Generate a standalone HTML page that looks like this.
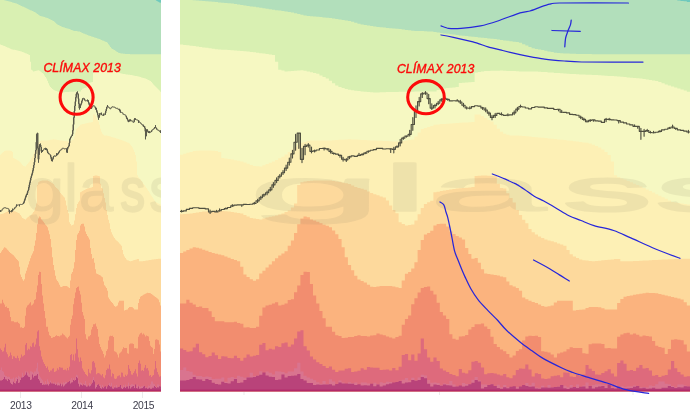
<!DOCTYPE html>
<html><head><meta charset="utf-8"><style>
html,body{margin:0;padding:0;background:#fff;}
body{width:690px;height:416px;position:relative;overflow:hidden;}
svg{position:absolute;display:block;}
.ax{position:absolute;top:400px;font:10.3px "Liberation Sans",Arial,sans-serif;letter-spacing:-0.35px;color:#3d3d4b;width:40px;text-align:center;}
</style></head><body>
<svg style="left:0;top:0" width="690" height="416" viewBox="0 0 690 416"><defs>
<g id="chart">
<polygon fill="#6fc9bd" points="180.0,-1.0 183.2,-1.0 183.2,-1.0 186.3,-1.0 186.3,-1.0 189.5,-1.0 189.5,-1.0 192.7,-1.0 192.7,-1.0 195.8,-1.0 195.8,-1.0 199.0,-1.0 199.0,-1.0 202.2,-1.0 202.2,-1.0 205.3,-1.0 205.3,-1.0 208.5,-1.0 208.5,-1.0 211.7,-1.0 211.7,-1.0 214.8,-1.0 214.8,-1.0 218.0,-1.0 218.0,-1.0 221.2,-1.0 221.2,-1.0 224.3,-1.0 224.3,-1.0 227.5,-1.0 227.5,-1.0 230.7,-1.0 230.7,-1.0 233.9,-1.0 233.9,-1.0 237.0,-1.0 237.0,-1.0 240.2,-1.0 240.2,-1.0 243.4,-1.0 243.4,-1.0 246.5,-1.0 246.5,-1.0 249.7,-1.0 249.7,-1.0 252.9,-1.0 252.9,-1.0 256.0,-1.0 256.0,-1.0 259.2,-1.0 259.2,-1.0 262.4,-1.0 262.4,-1.0 265.5,-1.0 265.5,-1.0 268.7,-1.0 268.7,-1.0 271.9,-1.0 271.9,-1.0 275.0,-1.0 275.0,-1.0 278.2,-1.0 278.2,-1.0 281.4,-1.0 281.4,-1.0 284.5,-1.0 284.5,-1.0 287.7,-1.0 287.7,-1.0 290.9,-1.0 290.9,-1.0 294.0,-1.0 294.0,-1.0 297.2,-1.0 297.2,-1.0 300.4,-1.0 300.4,-1.0 303.5,-1.0 303.5,-1.0 306.7,-1.0 306.7,-1.0 309.9,-1.0 309.9,-1.0 313.0,-1.0 313.0,-1.0 316.2,-1.0 316.2,-1.0 319.4,-1.0 319.4,-1.0 322.5,-1.0 322.5,-1.0 325.7,-1.0 325.7,-1.0 328.9,-1.0 328.9,-1.0 332.0,-1.0 332.0,-1.0 335.2,-1.0 335.2,-1.0 338.4,-1.0 338.4,-1.0 341.6,-1.0 341.6,-1.0 344.7,-1.0 344.7,-1.0 347.9,-1.0 347.9,-1.0 351.1,-1.0 351.1,-1.0 354.2,-1.0 354.2,-1.0 357.4,-1.0 357.4,-1.0 360.6,-1.0 360.6,-1.0 363.7,-1.0 363.7,-1.0 366.9,-1.0 366.9,-1.0 370.1,-1.0 370.1,-1.0 373.2,-1.0 373.2,-1.0 376.4,-1.0 376.4,-1.0 379.6,-1.0 379.6,-1.0 382.7,-1.0 382.7,-1.0 385.9,-1.0 385.9,-1.0 389.1,-1.0 389.1,-1.0 392.2,-1.0 392.2,-1.0 395.4,-1.0 395.4,-1.0 398.6,-1.0 398.6,-1.0 401.7,-1.0 401.7,-1.0 404.9,-1.0 404.9,-1.0 408.1,-1.0 408.1,-1.0 411.2,-1.0 411.2,-1.0 414.4,-1.0 414.4,-1.0 417.6,-1.0 417.6,-1.0 420.7,-1.0 420.7,-1.0 423.9,-1.0 423.9,-1.0 427.1,-1.0 427.1,-1.0 430.2,-1.0 430.2,-1.0 433.4,-1.0 433.4,-1.0 436.6,-1.0 436.6,-1.0 439.8,-1.0 439.8,-1.0 442.9,-1.0 442.9,-1.0 446.1,-1.0 446.1,-1.0 449.3,-1.0 449.3,-1.0 452.4,-1.0 452.4,-1.0 455.6,-1.0 455.6,-1.0 458.8,-1.0 458.8,-1.0 461.9,-1.0 461.9,-1.0 465.1,-1.0 465.1,-1.0 468.3,-1.0 468.3,-1.0 471.4,-1.0 471.4,-1.0 474.6,-1.0 474.6,-1.0 477.8,-1.0 477.8,-1.0 480.9,-1.0 480.9,-1.0 484.1,-1.0 484.1,-1.0 487.3,-1.0 487.3,-1.0 490.4,-1.0 490.4,-1.0 493.6,-1.0 493.6,-1.0 496.8,-1.0 496.8,-1.0 499.9,-1.0 499.9,-1.0 503.1,-1.0 503.1,-1.0 506.3,-1.0 506.3,-1.0 509.4,-1.0 509.4,-1.0 512.6,-1.0 512.6,-1.0 515.8,-1.0 515.8,-1.0 518.9,-1.0 518.9,-1.0 522.1,-1.0 522.1,-1.0 525.3,-1.0 525.3,-1.0 528.4,-1.0 528.4,-1.0 531.6,-1.0 531.6,-1.0 534.8,-1.0 534.8,-1.0 538.0,-1.0 538.0,-1.0 541.1,-1.0 541.1,-1.0 544.3,-1.0 544.3,-1.0 547.5,-1.0 547.5,-1.0 550.6,-1.0 550.6,-1.0 553.8,-1.0 553.8,-1.0 557.0,-1.0 557.0,-1.0 560.1,-1.0 560.1,-1.0 563.3,-1.0 563.3,-1.0 566.5,-1.0 566.5,-1.0 569.6,-1.0 569.6,-1.0 572.8,-1.0 572.8,-1.0 576.0,-1.0 576.0,-1.0 579.1,-1.0 579.1,-1.0 582.3,-1.0 582.3,-1.0 585.5,-1.0 585.5,-1.0 588.6,-1.0 588.6,-1.0 591.8,-1.0 591.8,-1.0 595.0,-1.0 595.0,-1.0 598.1,-1.0 598.1,-1.0 601.3,-1.0 601.3,-1.0 604.5,-1.0 604.5,-1.0 607.6,-1.0 607.6,-1.0 610.8,-1.0 610.8,-1.0 614.0,-1.0 614.0,-1.0 617.1,-1.0 617.1,-1.0 620.3,-1.0 620.3,-1.0 623.5,-1.0 623.5,-1.0 626.6,-1.0 626.6,-1.0 629.8,-1.0 629.8,-1.0 633.0,-1.0 633.0,-1.0 636.1,-1.0 636.1,-1.0 639.3,-1.0 639.3,-1.0 642.5,-1.0 642.5,-1.0 645.7,-1.0 645.7,-1.0 648.8,-1.0 648.8,-1.0 652.0,-1.0 652.0,-1.0 655.2,-1.0 655.2,-1.0 658.3,-1.0 658.3,-1.0 661.5,-1.0 661.5,-1.0 664.7,-1.0 664.7,-1.0 667.8,-1.0 667.8,-1.0 671.0,-1.0 671.0,-1.0 674.2,-1.0 674.2,-1.0 677.3,-1.0 677.3,-1.0 680.5,-1.0 680.5,-1.0 683.7,-1.0 683.7,-1.0 686.8,-1.0 686.8,-1.0 690.0,-1.0 690.0,391.5 180.0,391.5"/>
<polygon fill="#b2dfbb" points="180.0,-1.0 183.2,-1.0 183.2,-1.0 186.3,-1.0 186.3,-1.0 189.5,-1.0 189.5,-1.0 192.7,-1.0 192.7,-1.0 195.8,-1.0 195.8,-1.0 199.0,-1.0 199.0,-1.0 202.2,-1.0 202.2,-1.0 205.3,-1.0 205.3,-1.0 208.5,-1.0 208.5,-1.0 211.7,-1.0 211.7,-1.0 214.8,-1.0 214.8,-1.0 218.0,-1.0 218.0,-1.0 221.2,-1.0 221.2,-1.0 224.3,-1.0 224.3,-1.0 227.5,-1.0 227.5,-1.0 230.7,-1.0 230.7,-1.0 233.9,-1.0 233.9,-1.0 237.0,-1.0 237.0,-1.0 240.2,-1.0 240.2,-1.0 243.4,-1.0 243.4,-1.0 246.5,-1.0 246.5,-1.0 249.7,-1.0 249.7,-1.0 252.9,-1.0 252.9,-1.0 256.0,-1.0 256.0,-1.0 259.2,-1.0 259.2,-1.0 262.4,-1.0 262.4,-1.0 265.5,-1.0 265.5,-1.0 268.7,-1.0 268.7,-1.0 271.9,-1.0 271.9,-1.0 275.0,-1.0 275.0,-1.0 278.2,-1.0 278.2,-1.0 281.4,-1.0 281.4,-1.0 284.5,-1.0 284.5,-1.0 287.7,-1.0 287.7,-1.0 290.9,-1.0 290.9,-1.0 294.0,-1.0 294.0,-1.0 297.2,-1.0 297.2,-1.0 300.4,-1.0 300.4,-1.0 303.5,-1.0 303.5,-1.0 306.7,-1.0 306.7,-1.0 309.9,-1.0 309.9,-1.0 313.0,-1.0 313.0,-1.0 316.2,-1.0 316.2,-1.0 319.4,-1.0 319.4,-1.0 322.5,-1.0 322.5,-1.0 325.7,-1.0 325.7,-1.0 328.9,-1.0 328.9,-1.0 332.0,-1.0 332.0,-1.0 335.2,-1.0 335.2,-1.0 338.4,-1.0 338.4,-1.0 341.6,-1.0 341.6,-1.0 344.7,-1.0 344.7,-1.0 347.9,-1.0 347.9,-1.0 351.1,-1.0 351.1,-1.0 354.2,-1.0 354.2,-1.0 357.4,-1.0 357.4,-1.0 360.6,-1.0 360.6,-1.0 363.7,-1.0 363.7,-1.0 366.9,-1.0 366.9,-1.0 370.1,-1.0 370.1,-1.0 373.2,-1.0 373.2,-1.0 376.4,-1.0 376.4,-1.0 379.6,-1.0 379.6,-1.0 382.7,-1.0 382.7,-1.0 385.9,-1.0 385.9,-1.0 389.1,-1.0 389.1,-1.0 392.2,-1.0 392.2,-1.0 395.4,-1.0 395.4,-1.0 398.6,-1.0 398.6,-1.0 401.7,-1.0 401.7,-1.0 404.9,-1.0 404.9,-1.0 408.1,-1.0 408.1,-1.0 411.2,-1.0 411.2,-1.0 414.4,-1.0 414.4,-1.0 417.6,-1.0 417.6,-1.0 420.7,-1.0 420.7,-1.0 423.9,-1.0 423.9,-1.0 427.1,-1.0 427.1,-1.0 430.2,-1.0 430.2,-1.0 433.4,-1.0 433.4,-1.0 436.6,-1.0 436.6,-1.0 439.8,-1.0 439.8,-1.0 442.9,-1.0 442.9,-1.0 446.1,-1.0 446.1,-1.0 449.3,-1.0 449.3,-1.0 452.4,-1.0 452.4,-1.0 455.6,-1.0 455.6,-1.0 458.8,-1.0 458.8,-1.0 461.9,-1.0 461.9,-1.0 465.1,-1.0 465.1,-1.0 468.3,-1.0 468.3,-1.0 471.4,-1.0 471.4,-1.0 474.6,-1.0 474.6,-1.0 477.8,-1.0 477.8,-1.0 480.9,-1.0 480.9,-1.0 484.1,-1.0 484.1,-1.0 487.3,-1.0 487.3,-1.0 490.4,-1.0 490.4,-1.0 493.6,-1.0 493.6,-1.0 496.8,-1.0 496.8,-1.0 499.9,-1.0 499.9,-1.0 503.1,-1.0 503.1,-1.0 506.3,-1.0 506.3,-1.0 509.4,-1.0 509.4,-1.0 512.6,-1.0 512.6,-1.0 515.8,-1.0 515.8,-1.0 518.9,-1.0 518.9,-1.0 522.1,-1.0 522.1,-1.0 525.3,-1.0 525.3,-1.0 528.4,-1.0 528.4,-1.0 531.6,-1.0 531.6,-1.0 534.8,-1.0 534.8,-1.0 538.0,-1.0 538.0,-1.0 541.1,-1.0 541.1,-1.0 544.3,-1.0 544.3,-1.0 547.5,-1.0 547.5,-1.0 550.6,-1.0 550.6,-1.0 553.8,-1.0 553.8,-1.0 557.0,-1.0 557.0,-1.0 560.1,-1.0 560.1,-1.0 563.3,-1.0 563.3,-1.0 566.5,-1.0 566.5,-1.0 569.6,-1.0 569.6,-1.0 572.8,-1.0 572.8,-1.0 576.0,-1.0 576.0,-1.0 579.1,-1.0 579.1,-1.0 582.3,-1.0 582.3,-1.0 585.5,-1.0 585.5,-1.0 588.6,-1.0 588.6,-1.0 591.8,-1.0 591.8,-1.0 595.0,-1.0 595.0,-1.0 598.1,-1.0 598.1,-1.0 601.3,-1.0 601.3,-1.0 604.5,-1.0 604.5,-1.0 607.6,-1.0 607.6,-1.0 610.8,-1.0 610.8,-1.0 614.0,-1.0 614.0,-1.0 617.1,-1.0 617.1,-1.0 620.3,-1.0 620.3,-1.0 623.5,-1.0 623.5,-1.0 626.6,-1.0 626.6,-1.0 629.8,-1.0 629.8,-1.0 633.0,-1.0 633.0,-1.0 636.1,-1.0 636.1,-1.0 639.3,-1.0 639.3,-1.0 642.5,-1.0 642.5,-1.0 645.7,-1.0 645.7,-1.0 648.8,-1.0 648.8,-1.0 652.0,-1.0 652.0,-1.0 655.2,-1.0 655.2,-1.0 658.3,-1.0 658.3,-1.0 661.5,-1.0 661.5,-1.0 664.7,-1.0 664.7,-1.0 667.8,-1.0 667.8,-1.0 671.0,-1.0 671.0,-1.0 674.2,-1.0 674.2,-1.0 677.3,-1.0 677.3,0.4 680.5,0.4 680.5,1.1 683.7,1.1 683.7,1.3 686.8,1.3 686.8,1.9 690.0,1.9 690.0,391.5 180.0,391.5"/>
<polygon fill="#d9f0b2" points="180.0,-1.0 183.2,-1.0 183.2,-1.0 186.3,-1.0 186.3,-1.0 189.5,-1.0 189.5,-0.3 192.7,-0.3 192.7,0.2 195.8,0.2 195.8,0.4 199.0,0.4 199.0,0.7 202.2,0.7 202.2,1.0 205.3,1.0 205.3,1.2 208.5,1.2 208.5,1.5 211.7,1.5 211.7,1.8 214.8,1.8 214.8,2.1 218.0,2.1 218.0,2.4 221.2,2.4 221.2,2.7 224.3,2.7 224.3,3.0 227.5,3.0 227.5,3.3 230.7,3.3 230.7,3.6 233.9,3.6 233.9,4.0 237.0,4.0 237.0,4.4 240.2,4.4 240.2,4.9 243.4,4.9 243.4,5.4 246.5,5.4 246.5,5.9 249.7,5.9 249.7,6.4 252.9,6.4 252.9,6.8 256.0,6.8 256.0,7.3 259.2,7.3 259.2,7.8 262.4,7.8 262.4,8.3 265.5,8.3 265.5,8.8 268.7,8.8 268.7,9.2 271.9,9.2 271.9,9.7 275.0,9.7 275.0,10.2 278.2,10.2 278.2,10.6 281.4,10.6 281.4,11.1 284.5,11.1 284.5,11.6 287.7,11.6 287.7,12.0 290.9,12.0 290.9,12.6 294.0,12.6 294.0,13.3 297.2,13.3 297.2,14.0 300.4,14.0 300.4,14.7 303.5,14.7 303.5,15.4 306.7,15.4 306.7,16.0 309.9,16.0 309.9,16.3 313.0,16.3 313.0,16.6 316.2,16.6 316.2,16.8 319.4,16.8 319.4,17.1 322.5,17.1 322.5,17.4 325.7,17.4 325.7,17.7 328.9,17.7 328.9,18.1 332.0,18.1 332.0,18.6 335.2,18.6 335.2,19.0 338.4,19.0 338.4,19.5 341.6,19.5 341.6,20.0 344.7,20.0 344.7,20.5 347.9,20.5 347.9,20.9 351.1,20.9 351.1,21.8 354.2,21.8 354.2,22.7 357.4,22.7 357.4,23.7 360.6,23.7 360.6,24.6 363.7,24.6 363.7,25.1 366.9,25.1 366.9,25.6 370.1,25.6 370.1,26.1 373.2,26.1 373.2,26.6 376.4,26.6 376.4,26.9 379.6,26.9 379.6,27.2 382.7,27.2 382.7,27.6 385.9,27.6 385.9,27.9 389.1,27.9 389.1,28.2 392.2,28.2 392.2,28.5 395.4,28.5 395.4,28.8 398.6,28.8 398.6,29.1 401.7,29.1 401.7,29.5 404.9,29.5 404.9,29.9 408.1,29.9 408.1,30.3 411.2,30.3 411.2,30.7 414.4,30.7 414.4,30.9 417.6,30.9 417.6,31.0 420.7,31.0 420.7,31.1 423.9,31.1 423.9,31.3 427.1,31.3 427.1,31.4 430.2,31.4 430.2,31.6 433.4,31.6 433.4,32.1 436.6,32.1 436.6,32.6 439.8,32.6 439.8,33.0 442.9,33.0 442.9,33.4 446.1,33.4 446.1,33.8 449.3,33.8 449.3,34.2 452.4,34.2 452.4,34.6 455.6,34.6 455.6,35.0 458.8,35.0 458.8,35.4 461.9,35.4 461.9,35.8 465.1,35.8 465.1,36.1 468.3,36.1 468.3,36.4 471.4,36.4 471.4,36.7 474.6,36.7 474.6,37.0 477.8,37.0 477.8,37.4 480.9,37.4 480.9,37.7 484.1,37.7 484.1,38.0 487.3,38.0 487.3,38.4 490.4,38.4 490.4,38.7 493.6,38.7 493.6,39.1 496.8,39.1 496.8,39.5 499.9,39.5 499.9,39.9 503.1,39.9 503.1,40.4 506.3,40.4 506.3,40.8 509.4,40.8 509.4,41.2 512.6,41.2 512.6,41.7 515.8,41.7 515.8,42.1 518.9,42.1 518.9,42.7 522.1,42.7 522.1,44.2 525.3,44.2 525.3,45.6 528.4,45.6 528.4,47.1 531.6,47.1 531.6,48.2 534.8,48.2 534.8,48.9 538.0,48.9 538.0,49.5 541.1,49.5 541.1,50.1 544.3,50.1 544.3,50.8 547.5,50.8 547.5,51.4 550.6,51.4 550.6,52.0 553.8,52.0 553.8,52.7 557.0,52.7 557.0,53.1 560.1,53.1 560.1,53.3 563.3,53.3 563.3,53.5 566.5,53.5 566.5,53.6 569.6,53.6 569.6,53.7 572.8,53.7 572.8,53.8 576.0,53.8 576.0,53.9 579.1,53.9 579.1,53.9 582.3,53.9 582.3,54.0 585.5,54.0 585.5,54.1 588.6,54.1 588.6,54.1 591.8,54.1 591.8,54.2 595.0,54.2 595.0,54.2 598.1,54.2 598.1,54.2 601.3,54.2 601.3,54.2 604.5,54.2 604.5,54.2 607.6,54.2 607.6,54.2 610.8,54.2 610.8,54.2 614.0,54.2 614.0,54.2 617.1,54.2 617.1,54.2 620.3,54.2 620.3,54.2 623.5,54.2 623.5,54.2 626.6,54.2 626.6,54.2 629.8,54.2 629.8,54.2 633.0,54.2 633.0,54.2 636.1,54.2 636.1,54.2 639.3,54.2 639.3,54.2 642.5,54.2 642.5,54.2 645.7,54.2 645.7,54.2 648.8,54.2 648.8,54.2 652.0,54.2 652.0,54.2 655.2,54.2 655.2,54.2 658.3,54.2 658.3,54.2 661.5,54.2 661.5,54.2 664.7,54.2 664.7,54.2 667.8,54.2 667.8,54.2 671.0,54.2 671.0,54.2 674.2,54.2 674.2,54.2 677.3,54.2 677.3,54.2 680.5,54.2 680.5,54.2 683.7,54.2 683.7,54.2 686.8,54.2 686.8,54.2 690.0,54.2 690.0,391.5 180.0,391.5"/>
<polygon fill="#f6f8c2" points="180.0,44.5 183.2,44.5 183.2,44.9 186.3,44.9 186.3,45.3 189.5,45.3 189.5,45.7 192.7,45.7 192.7,46.1 195.8,46.1 195.8,46.5 199.0,46.5 199.0,46.9 202.2,46.9 202.2,47.4 205.3,47.4 205.3,47.8 208.5,47.8 208.5,48.3 211.7,48.3 211.7,48.8 214.8,48.8 214.8,49.2 218.0,49.2 218.0,49.5 221.2,49.5 221.2,49.7 224.3,49.7 224.3,49.8 227.5,49.8 227.5,50.0 230.7,50.0 230.7,50.2 233.9,50.2 233.9,50.4 237.0,50.4 237.0,50.7 240.2,50.7 240.2,51.0 243.4,51.0 243.4,51.3 246.5,51.3 246.5,51.6 249.7,51.6 249.7,51.9 252.9,51.9 252.9,52.3 256.0,52.3 256.0,52.7 259.2,52.7 259.2,53.2 262.4,53.2 262.4,53.6 265.5,53.6 265.5,54.1 268.7,54.1 268.7,54.6 271.9,54.6 271.9,55.0 275.0,55.0 275.0,61.8 278.2,61.8 278.2,69.7 281.4,69.7 281.4,70.6 284.5,70.6 284.5,71.4 287.7,71.4 287.7,71.2 290.9,71.2 290.9,70.9 294.0,70.9 294.0,70.7 297.2,70.7 297.2,70.5 300.4,70.5 300.4,70.3 303.5,70.3 303.5,70.7 306.7,70.7 306.7,71.5 309.9,71.5 309.9,72.3 313.0,72.3 313.0,73.1 316.2,73.1 316.2,73.8 319.4,73.8 319.4,75.4 322.5,75.4 322.5,77.0 325.7,77.0 325.7,78.5 328.9,78.5 328.9,80.8 332.0,80.8 332.0,83.2 335.2,83.2 335.2,85.6 338.4,85.6 338.4,86.9 341.6,86.9 341.6,87.9 344.7,87.9 344.7,88.9 347.9,88.9 347.9,89.8 351.1,89.8 351.1,90.3 354.2,90.3 354.2,90.7 357.4,90.7 357.4,91.1 360.6,91.1 360.6,91.5 363.7,91.5 363.7,91.8 366.9,91.8 366.9,92.0 370.1,92.0 370.1,92.3 373.2,92.3 373.2,92.5 376.4,92.5 376.4,92.4 379.6,92.4 379.6,92.3 382.7,92.3 382.7,92.2 385.9,92.2 385.9,92.1 389.1,92.1 389.1,92.0 392.2,92.0 392.2,91.9 395.4,91.9 395.4,91.9 398.6,91.9 398.6,91.8 401.7,91.8 401.7,91.7 404.9,91.7 404.9,91.7 408.1,91.7 408.1,91.7 411.2,91.7 411.2,91.7 414.4,91.7 414.4,91.6 417.6,91.6 417.6,91.6 420.7,91.6 420.7,91.6 423.9,91.6 423.9,91.6 427.1,91.6 427.1,91.5 430.2,91.5 430.2,91.5 433.4,91.5 433.4,91.5 436.6,91.5 436.6,89.9 439.8,89.9 439.8,88.8 442.9,88.8 442.9,88.5 446.1,88.5 446.1,88.1 449.3,88.1 449.3,87.8 452.4,87.8 452.4,87.4 455.6,87.4 455.6,87.1 458.8,87.1 458.8,82.9 461.9,82.9 461.9,82.7 465.1,82.7 465.1,82.5 468.3,82.5 468.3,82.3 471.4,82.3 471.4,82.1 474.6,82.1 474.6,72.4 477.8,72.4 477.8,71.9 480.9,71.9 480.9,71.5 484.1,71.5 484.1,71.0 487.3,71.0 487.3,70.9 490.4,70.9 490.4,70.8 493.6,70.8 493.6,70.8 496.8,70.8 496.8,70.7 499.9,70.7 499.9,70.6 503.1,70.6 503.1,70.7 506.3,70.7 506.3,70.9 509.4,70.9 509.4,71.0 512.6,71.0 512.6,71.1 515.8,71.1 515.8,71.3 518.9,71.3 518.9,71.4 522.1,71.4 522.1,71.4 525.3,71.4 525.3,71.5 528.4,71.5 528.4,71.5 531.6,71.5 531.6,71.6 534.8,71.6 534.8,71.6 538.0,71.6 538.0,71.7 541.1,71.7 541.1,71.9 544.3,71.9 544.3,72.1 547.5,72.1 547.5,72.4 550.6,72.4 550.6,72.6 553.8,72.6 553.8,72.9 557.0,72.9 557.0,73.1 560.1,73.1 560.1,73.3 563.3,73.3 563.3,73.6 566.5,73.6 566.5,73.8 569.6,73.8 569.6,74.0 572.8,74.0 572.8,74.1 576.0,74.1 576.0,74.3 579.1,74.3 579.1,74.4 582.3,74.4 582.3,74.6 585.5,74.6 585.5,74.7 588.6,74.7 588.6,74.8 591.8,74.8 591.8,75.0 595.0,75.0 595.0,75.1 598.1,75.1 598.1,75.3 601.3,75.3 601.3,75.5 604.5,75.5 604.5,75.7 607.6,75.7 607.6,75.9 610.8,75.9 610.8,76.1 614.0,76.1 614.0,76.2 617.1,76.2 617.1,76.4 620.3,76.4 620.3,76.7 623.5,76.7 623.5,77.0 626.6,77.0 626.6,77.4 629.8,77.4 629.8,77.7 633.0,77.7 633.0,78.0 636.1,78.0 636.1,78.3 639.3,78.3 639.3,78.6 642.5,78.6 642.5,79.0 645.7,79.0 645.7,79.5 648.8,79.5 648.8,80.0 652.0,80.0 652.0,80.6 655.2,80.6 655.2,81.1 658.3,81.1 658.3,82.0 661.5,82.0 661.5,83.2 664.7,83.2 664.7,84.4 667.8,84.4 667.8,85.5 671.0,85.5 671.0,86.4 674.2,86.4 674.2,87.4 677.3,87.4 677.3,88.4 680.5,88.4 680.5,89.5 683.7,89.5 683.7,90.6 686.8,90.6 686.8,91.8 690.0,91.8 690.0,391.5 180.0,391.5"/>
<polygon fill="#fdf0b5" points="180.0,154.8 183.2,154.8 183.2,153.7 186.3,153.7 186.3,152.7 189.5,152.7 189.5,151.9 192.7,151.9 192.7,151.1 195.8,151.1 195.8,150.8 199.0,150.8 199.0,150.6 202.2,150.6 202.2,150.4 205.3,150.4 205.3,150.4 208.5,150.4 208.5,150.6 211.7,150.6 211.7,150.7 214.8,150.7 214.8,150.9 218.0,150.9 218.0,152.1 221.2,152.1 221.2,158.0 224.3,158.0 224.3,158.5 227.5,158.5 227.5,159.0 230.7,159.0 230.7,159.6 233.9,159.6 233.9,160.2 237.0,160.2 237.0,160.8 240.2,160.8 240.2,161.5 243.4,161.5 243.4,162.6 246.5,162.6 246.5,163.8 249.7,163.8 249.7,164.9 252.9,164.9 252.9,165.9 256.0,165.9 256.0,166.2 259.2,166.2 259.2,166.4 262.4,166.4 262.4,165.2 265.5,165.2 265.5,164.0 268.7,164.0 268.7,162.7 271.9,162.7 271.9,161.5 275.0,161.5 275.0,159.9 278.2,159.9 278.2,158.3 281.4,158.3 281.4,156.7 284.5,156.7 284.5,154.4 287.7,154.4 287.7,152.0 290.9,152.0 290.9,149.6 294.0,149.6 294.0,147.1 297.2,147.1 297.2,144.5 300.4,144.5 300.4,142.7 303.5,142.7 303.5,141.9 306.7,141.9 306.7,141.1 309.9,141.1 309.9,140.5 313.0,140.5 313.0,140.5 316.2,140.5 316.2,140.5 319.4,140.5 319.4,140.5 322.5,140.5 322.5,140.5 325.7,140.5 325.7,140.5 328.9,140.5 328.9,140.4 332.0,140.4 332.0,140.2 335.2,140.2 335.2,140.0 338.4,140.0 338.4,139.8 341.6,139.8 341.6,139.7 344.7,139.7 344.7,139.5 347.9,139.5 347.9,139.3 351.1,139.3 351.1,139.4 354.2,139.4 354.2,139.6 357.4,139.6 357.4,139.7 360.6,139.7 360.6,139.9 363.7,139.9 363.7,140.0 366.9,140.0 366.9,140.2 370.1,140.2 370.1,140.4 373.2,140.4 373.2,140.5 376.4,140.5 376.4,140.7 379.6,140.7 379.6,140.8 382.7,140.8 382.7,141.0 385.9,141.0 385.9,141.1 389.1,141.1 389.1,141.3 392.2,141.3 392.2,141.4 395.4,141.4 395.4,141.6 398.6,141.6 398.6,141.5 401.7,141.5 401.7,141.0 404.9,141.0 404.9,140.5 408.1,140.5 408.1,140.0 411.2,140.0 411.2,139.5 414.4,139.5 414.4,136.6 417.6,136.6 417.6,132.4 420.7,132.4 420.7,129.1 423.9,129.1 423.9,128.0 427.1,128.0 427.1,127.0 430.2,127.0 430.2,125.9 433.4,125.9 433.4,124.8 436.6,124.8 436.6,124.4 439.8,124.4 439.8,124.1 442.9,124.1 442.9,123.9 446.1,123.9 446.1,123.7 449.3,123.7 449.3,123.5 452.4,123.5 452.4,123.3 455.6,123.3 455.6,123.0 458.8,123.0 458.8,122.8 461.9,122.8 461.9,122.6 465.1,122.6 465.1,122.4 468.3,122.4 468.3,122.2 471.4,122.2 471.4,122.0 474.6,122.0 474.6,114.6 477.8,114.6 477.8,114.6 480.9,114.6 480.9,115.9 484.1,115.9 484.1,118.1 487.3,118.1 487.3,120.0 490.4,120.0 490.4,121.5 493.6,121.5 493.6,124.8 496.8,124.8 496.8,128.7 499.9,128.7 499.9,131.8 503.1,131.8 503.1,133.7 506.3,133.7 506.3,134.8 509.4,134.8 509.4,135.6 512.6,135.6 512.6,135.6 515.8,135.6 515.8,135.6 518.9,135.6 518.9,135.7 522.1,135.7 522.1,136.0 525.3,136.0 525.3,136.3 528.4,136.3 528.4,136.6 531.6,136.6 531.6,136.9 534.8,136.9 534.8,137.2 538.0,137.2 538.0,137.5 541.1,137.5 541.1,137.8 544.3,137.8 544.3,138.1 547.5,138.1 547.5,138.5 550.6,138.5 550.6,138.8 553.8,138.8 553.8,139.1 557.0,139.1 557.0,139.4 560.1,139.4 560.1,139.8 563.3,139.8 563.3,140.1 566.5,140.1 566.5,140.4 569.6,140.4 569.6,140.8 572.8,140.8 572.8,141.2 576.0,141.2 576.0,141.6 579.1,141.6 579.1,142.0 582.3,142.0 582.3,142.4 585.5,142.4 585.5,142.8 588.6,142.8 588.6,143.5 591.8,143.5 591.8,144.8 595.0,144.8 595.0,146.1 598.1,146.1 598.1,147.4 601.3,147.4 601.3,149.4 604.5,149.4 604.5,151.9 607.6,151.9 607.6,155.0 610.8,155.0 610.8,161.4 614.0,161.4 614.0,175.3 617.1,175.3 617.1,177.2 620.3,177.2 620.3,178.4 623.5,178.4 623.5,179.6 626.6,179.6 626.6,181.0 629.8,181.0 629.8,182.3 633.0,182.3 633.0,183.7 636.1,183.7 636.1,185.1 639.3,185.1 639.3,186.5 642.5,186.5 642.5,187.9 645.7,187.9 645.7,189.5 648.8,189.5 648.8,191.1 652.0,191.1 652.0,192.6 655.2,192.6 655.2,194.2 658.3,194.2 658.3,195.7 661.5,195.7 661.5,197.3 664.7,197.3 664.7,198.8 667.8,198.8 667.8,200.4 671.0,200.4 671.0,201.9 674.2,201.9 674.2,202.5 677.3,202.5 677.3,202.9 680.5,202.9 680.5,203.4 683.7,203.4 683.7,203.9 686.8,203.9 686.8,204.4 690.0,204.4 690.0,391.5 180.0,391.5"/>
<polygon fill="#fdd99c" points="180.0,214.3 183.2,214.3 183.2,214.0 186.3,214.0 186.3,213.7 189.5,213.7 189.5,213.4 192.7,213.4 192.7,213.0 195.8,213.0 195.8,212.6 199.0,212.6 199.0,212.1 202.2,212.1 202.2,211.6 205.3,211.6 205.3,211.4 208.5,211.4 208.5,211.2 211.7,211.2 211.7,211.0 214.8,211.0 214.8,210.8 218.0,210.8 218.0,210.9 221.2,210.9 221.2,211.1 224.3,211.1 224.3,211.3 227.5,211.3 227.5,211.5 230.7,211.5 230.7,211.9 233.9,211.9 233.9,212.4 237.0,212.4 237.0,212.9 240.2,212.9 240.2,213.4 243.4,213.4 243.4,215.0 246.5,215.0 246.5,216.6 249.7,216.6 249.7,218.1 252.9,218.1 252.9,218.6 256.0,218.6 256.0,219.0 259.2,219.0 259.2,219.4 262.4,219.4 262.4,218.5 265.5,218.5 265.5,217.5 268.7,217.5 268.7,216.7 271.9,216.7 271.9,216.2 275.0,216.2 275.0,215.5 278.2,215.5 278.2,214.5 281.4,214.5 281.4,213.4 284.5,213.4 284.5,211.9 287.7,211.9 287.7,210.4 290.9,210.4 290.9,207.5 294.0,207.5 294.0,203.5 297.2,203.5 297.2,185.1 300.4,185.1 300.4,182.2 303.5,182.2 303.5,181.5 306.7,181.5 306.7,181.1 309.9,181.1 309.9,180.8 313.0,180.8 313.0,180.4 316.2,180.4 316.2,180.4 319.4,180.4 319.4,180.4 322.5,180.4 322.5,180.4 325.7,180.4 325.7,180.4 328.9,180.4 328.9,180.5 332.0,180.5 332.0,181.0 335.2,181.0 335.2,181.5 338.4,181.5 338.4,182.1 341.6,182.1 341.6,182.7 344.7,182.7 344.7,183.2 347.9,183.2 347.9,183.9 351.1,183.9 351.1,185.4 354.2,185.4 354.2,186.9 357.4,186.9 357.4,188.0 360.6,188.0 360.6,188.8 363.7,188.8 363.7,189.8 366.9,189.8 366.9,191.4 370.1,191.4 370.1,193.0 373.2,193.0 373.2,194.2 376.4,194.2 376.4,195.3 379.6,195.3 379.6,196.4 382.7,196.4 382.7,197.5 385.9,197.5 385.9,200.6 389.1,200.6 389.1,205.4 392.2,205.4 392.2,209.9 395.4,209.9 395.4,213.2 398.6,213.2 398.6,222.3 401.7,222.3 401.7,223.9 404.9,223.9 404.9,225.5 408.1,225.5 408.1,225.1 411.2,225.1 411.2,224.5 414.4,224.5 414.4,220.4 417.6,220.4 417.6,214.2 420.7,214.2 420.7,207.9 423.9,207.9 423.9,203.9 427.1,203.9 427.1,202.3 430.2,202.3 430.2,200.7 433.4,200.7 433.4,192.3 436.6,192.3 436.6,191.7 439.8,191.7 439.8,191.1 442.9,191.1 442.9,190.6 446.1,190.6 446.1,190.1 449.3,190.1 449.3,189.5 452.4,189.5 452.4,189.0 455.6,189.0 455.6,188.5 458.8,188.5 458.8,188.2 461.9,188.2 461.9,187.9 465.1,187.9 465.1,187.7 468.3,187.7 468.3,187.4 471.4,187.4 471.4,187.1 474.6,187.1 474.6,176.0 477.8,176.0 477.8,175.8 480.9,175.8 480.9,175.6 484.1,175.6 484.1,175.4 487.3,175.4 487.3,175.7 490.4,175.7 490.4,176.0 493.6,176.0 493.6,176.3 496.8,176.3 496.8,183.7 499.9,183.7 499.9,187.9 503.1,187.9 503.1,188.4 506.3,188.4 506.3,193.3 509.4,193.3 509.4,198.0 512.6,198.0 512.6,202.6 515.8,202.6 515.8,210.1 518.9,210.1 518.9,215.0 522.1,215.0 522.1,219.7 525.3,219.7 525.3,223.3 528.4,223.3 528.4,229.0 531.6,229.0 531.6,232.3 534.8,232.3 534.8,234.4 538.0,234.4 538.0,236.6 541.1,236.6 541.1,238.1 544.3,238.1 544.3,239.4 547.5,239.4 547.5,240.4 550.6,240.4 550.6,241.3 553.8,241.3 553.8,242.3 557.0,242.3 557.0,243.4 560.1,243.4 560.1,244.6 563.3,244.6 563.3,245.8 566.5,245.8 566.5,250.0 569.6,250.0 569.6,254.3 572.8,254.3 572.8,256.6 576.0,256.6 576.0,258.1 579.1,258.1 579.1,259.6 582.3,259.6 582.3,260.2 585.5,260.2 585.5,260.6 588.6,260.6 588.6,260.9 591.8,260.9 591.8,261.2 595.0,261.2 595.0,261.0 598.1,261.0 598.1,260.7 601.3,260.7 601.3,260.3 604.5,260.3 604.5,260.0 607.6,260.0 607.6,259.7 610.8,259.7 610.8,259.4 614.0,259.4 614.0,259.1 617.1,259.1 617.1,259.0 620.3,259.0 620.3,261.3 623.5,261.3 623.5,261.3 626.6,261.3 626.6,261.3 629.8,261.3 629.8,261.3 633.0,261.3 633.0,261.1 636.1,261.1 636.1,260.9 639.3,260.9 639.3,260.8 642.5,260.8 642.5,260.6 645.7,260.6 645.7,260.4 648.8,260.4 648.8,260.3 652.0,260.3 652.0,260.1 655.2,260.1 655.2,259.9 658.3,259.9 658.3,259.8 661.5,259.8 661.5,259.6 664.7,259.6 664.7,259.5 667.8,259.5 667.8,259.3 671.0,259.3 671.0,259.2 674.2,259.2 674.2,259.0 677.3,259.0 677.3,258.9 680.5,258.9 680.5,258.8 683.7,258.8 683.7,258.8 686.8,258.8 686.8,258.8 690.0,258.8 690.0,391.5 180.0,391.5"/>
<polygon fill="#fbb37e" points="180.0,253.1 183.2,253.1 183.2,251.5 186.3,251.5 186.3,250.0 189.5,250.0 189.5,248.6 192.7,248.6 192.7,247.2 195.8,247.2 195.8,247.7 199.0,247.7 199.0,248.6 202.2,248.6 202.2,249.7 205.3,249.7 205.3,250.8 208.5,250.8 208.5,252.0 211.7,252.0 211.7,253.0 214.8,253.0 214.8,253.7 218.0,253.7 218.0,254.5 221.2,254.5 221.2,255.3 224.3,255.3 224.3,256.6 227.5,256.6 227.5,257.8 230.7,257.8 230.7,259.0 233.9,259.0 233.9,260.1 237.0,260.1 237.0,261.2 240.2,261.2 240.2,266.7 243.4,266.7 243.4,274.5 246.5,274.5 246.5,277.1 249.7,277.1 249.7,279.2 252.9,279.2 252.9,280.8 256.0,280.8 256.0,279.2 259.2,279.2 259.2,273.4 262.4,273.4 262.4,270.8 265.5,270.8 265.5,267.6 268.7,267.6 268.7,264.4 271.9,264.4 271.9,261.3 275.0,261.3 275.0,258.2 278.2,258.2 278.2,255.5 281.4,255.5 281.4,253.4 284.5,253.4 284.5,251.2 287.7,251.2 287.7,245.8 290.9,245.8 290.9,240.4 294.0,240.4 294.0,232.9 297.2,232.9 297.2,224.2 300.4,224.2 300.4,218.6 303.5,218.6 303.5,216.6 306.7,216.6 306.7,217.3 309.9,217.3 309.9,219.4 313.0,219.4 313.0,220.6 316.2,220.6 316.2,221.7 319.4,221.7 319.4,223.3 322.5,223.3 322.5,224.7 325.7,224.7 325.7,225.8 328.9,225.8 328.9,227.3 332.0,227.3 332.0,230.4 335.2,230.4 335.2,234.3 338.4,234.3 338.4,239.0 341.6,239.0 341.6,247.3 344.7,247.3 344.7,257.3 347.9,257.3 347.9,265.0 351.1,265.0 351.1,270.3 354.2,270.3 354.2,275.8 357.4,275.8 357.4,279.4 360.6,279.4 360.6,281.0 363.7,281.0 363.7,282.6 366.9,282.6 366.9,284.7 370.1,284.7 370.1,286.8 373.2,286.8 373.2,286.9 376.4,286.9 376.4,286.5 379.6,286.5 379.6,286.1 382.7,286.1 382.7,286.0 385.9,286.0 385.9,286.0 389.1,286.0 389.1,286.0 392.2,286.0 392.2,286.5 395.4,286.5 395.4,287.3 398.6,287.3 398.6,288.1 401.7,288.1 401.7,280.4 404.9,280.4 404.9,273.8 408.1,273.8 408.1,272.0 411.2,272.0 411.2,268.6 414.4,268.6 414.4,262.3 417.6,262.3 417.6,250.0 420.7,250.0 420.7,240.0 423.9,240.0 423.9,234.6 427.1,234.6 427.1,233.0 430.2,233.0 430.2,230.8 433.4,230.8 433.4,225.6 436.6,225.6 436.6,224.1 439.8,224.1 439.8,223.8 442.9,223.8 442.9,223.8 446.1,223.8 446.1,226.4 449.3,226.4 449.3,231.4 452.4,231.4 452.4,233.9 455.6,233.9 455.6,236.0 458.8,236.0 458.8,237.5 461.9,237.5 461.9,239.6 465.1,239.6 465.1,247.9 468.3,247.9 468.3,254.1 471.4,254.1 471.4,258.8 474.6,258.8 474.6,257.9 477.8,257.9 477.8,262.8 480.9,262.8 480.9,269.2 484.1,269.2 484.1,273.6 487.3,273.6 487.3,274.1 490.4,274.1 490.4,274.6 493.6,274.6 493.6,275.1 496.8,275.1 496.8,275.6 499.9,275.6 499.9,276.5 503.1,276.5 503.1,277.3 506.3,277.3 506.3,281.6 509.4,281.6 509.4,285.2 512.6,285.2 512.6,286.6 515.8,286.6 515.8,287.9 518.9,287.9 518.9,290.7 522.1,290.7 522.1,297.6 525.3,297.6 525.3,299.2 528.4,299.2 528.4,300.8 531.6,300.8 531.6,301.9 534.8,301.9 534.8,303.0 538.0,303.0 538.0,304.5 541.1,304.5 541.1,306.1 544.3,306.1 544.3,306.8 547.5,306.8 547.5,306.2 550.6,306.2 550.6,305.5 553.8,305.5 553.8,302.4 557.0,302.4 557.0,300.8 560.1,300.8 560.1,300.8 563.3,300.8 563.3,300.8 566.5,300.8 566.5,300.8 569.6,300.8 569.6,300.8 572.8,300.8 572.8,310.4 576.0,310.4 576.0,310.1 579.1,310.1 579.1,309.8 582.3,309.8 582.3,309.4 585.5,309.4 585.5,307.9 588.6,307.9 588.6,307.0 591.8,307.0 591.8,307.0 595.0,307.0 595.0,307.0 598.1,307.0 598.1,307.3 601.3,307.3 601.3,308.3 604.5,308.3 604.5,309.4 607.6,309.4 607.6,309.4 610.8,309.4 610.8,309.4 614.0,309.4 614.0,309.4 617.1,309.4 617.1,303.0 620.3,303.0 620.3,298.9 623.5,298.9 623.5,296.7 626.6,296.7 626.6,296.1 629.8,296.1 629.8,295.5 633.0,295.5 633.0,294.8 636.1,294.8 636.1,294.3 639.3,294.3 639.3,293.8 642.5,293.8 642.5,293.3 645.7,293.3 645.7,292.8 648.8,292.8 648.8,292.9 652.0,292.9 652.0,293.1 655.2,293.1 655.2,293.3 658.3,293.3 658.3,293.9 661.5,293.9 661.5,294.7 664.7,294.7 664.7,295.5 667.8,295.5 667.8,296.3 671.0,296.3 671.0,297.0 674.2,297.0 674.2,297.8 677.3,297.8 677.3,298.6 680.5,298.6 680.5,299.5 683.7,299.5 683.7,302.2 686.8,302.2 686.8,305.4 690.0,305.4 690.0,391.5 180.0,391.5"/>
<polygon fill="#f28d6f" points="180.0,303.6 183.2,303.6 183.2,303.5 186.3,303.5 186.3,299.7 189.5,299.7 189.5,302.7 192.7,302.7 192.7,304.5 195.8,304.5 195.8,306.9 199.0,306.9 199.0,306.5 202.2,306.5 202.2,307.9 205.3,307.9 205.3,307.9 208.5,307.9 208.5,311.2 211.7,311.2 211.7,316.9 214.8,316.9 214.8,321.3 218.0,321.3 218.0,321.2 221.2,321.2 221.2,321.2 224.3,321.2 224.3,322.3 227.5,322.3 227.5,322.3 230.7,322.3 230.7,322.2 233.9,322.2 233.9,321.8 237.0,321.8 237.0,323.1 240.2,323.1 240.2,323.8 243.4,323.8 243.4,327.4 246.5,327.4 246.5,327.3 249.7,327.3 249.7,328.0 252.9,328.0 252.9,327.9 256.0,327.9 256.0,326.8 259.2,326.8 259.2,315.7 262.4,315.7 262.4,307.5 265.5,307.5 265.5,305.6 268.7,305.6 268.7,304.8 271.9,304.8 271.9,303.6 275.0,303.6 275.0,302.3 278.2,302.3 278.2,305.6 281.4,305.6 281.4,304.7 284.5,304.7 284.5,303.6 287.7,303.6 287.7,299.9 290.9,299.9 290.9,299.2 294.0,299.2 294.0,292.3 297.2,292.3 297.2,285.5 300.4,285.5 300.4,275.0 303.5,275.0 303.5,271.7 306.7,271.7 306.7,272.0 309.9,272.0 309.9,283.9 313.0,283.9 313.0,295.4 316.2,295.4 316.2,303.4 319.4,303.4 319.4,311.0 322.5,311.0 322.5,318.2 325.7,318.2 325.7,326.8 328.9,326.8 328.9,326.8 332.0,326.8 332.0,331.7 335.2,331.7 335.2,335.2 338.4,335.2 338.4,336.1 341.6,336.1 341.6,338.1 344.7,338.1 344.7,337.7 347.9,337.7 347.9,337.1 351.1,337.1 351.1,337.1 354.2,337.1 354.2,336.0 357.4,336.0 357.4,335.3 360.6,335.3 360.6,336.0 363.7,336.0 363.7,336.0 366.9,336.0 366.9,336.4 370.1,336.4 370.1,335.4 373.2,335.4 373.2,335.2 376.4,335.2 376.4,333.6 379.6,333.6 379.6,334.6 382.7,334.6 382.7,335.3 385.9,335.3 385.9,336.6 389.1,336.6 389.1,337.6 392.2,337.6 392.2,338.5 395.4,338.5 395.4,337.1 398.6,337.1 398.6,335.8 401.7,335.8 401.7,324.7 404.9,324.7 404.9,318.9 408.1,318.9 408.1,315.4 411.2,315.4 411.2,304.2 414.4,304.2 414.4,298.2 417.6,298.2 417.6,292.5 420.7,292.5 420.7,288.1 423.9,288.1 423.9,286.9 427.1,286.9 427.1,286.6 430.2,286.6 430.2,290.8 433.4,290.8 433.4,294.6 436.6,294.6 436.6,302.8 439.8,302.8 439.8,311.9 442.9,311.9 442.9,315.5 446.1,315.5 446.1,319.1 449.3,319.1 449.3,334.2 452.4,334.2 452.4,338.7 455.6,338.7 455.6,339.7 458.8,339.7 458.8,336.5 461.9,336.5 461.9,336.3 465.1,336.3 465.1,334.9 468.3,334.9 468.3,329.6 471.4,329.6 471.4,327.1 474.6,327.1 474.6,324.3 477.8,324.3 477.8,324.2 480.9,324.2 480.9,323.6 484.1,323.6 484.1,326.4 487.3,326.4 487.3,329.0 490.4,329.0 490.4,336.8 493.6,336.8 493.6,343.9 496.8,343.9 496.8,347.0 499.9,347.0 499.9,349.6 503.1,349.6 503.1,351.3 506.3,351.3 506.3,354.1 509.4,354.1 509.4,357.5 512.6,357.5 512.6,355.5 515.8,355.5 515.8,351.0 518.9,351.0 518.9,349.2 522.1,349.2 522.1,340.6 525.3,340.6 525.3,336.6 528.4,336.6 528.4,335.8 531.6,335.8 531.6,336.0 534.8,336.0 534.8,335.7 538.0,335.7 538.0,337.0 541.1,337.0 541.1,351.2 544.3,351.2 544.3,351.8 547.5,351.8 547.5,352.4 550.6,352.4 550.6,354.4 553.8,354.4 553.8,357.6 557.0,357.6 557.0,353.5 560.1,353.5 560.1,352.5 563.3,352.5 563.3,351.6 566.5,351.6 566.5,349.2 569.6,349.2 569.6,347.3 572.8,347.3 572.8,347.9 576.0,347.9 576.0,347.9 579.1,347.9 579.1,348.0 582.3,348.0 582.3,353.2 585.5,353.2 585.5,353.8 588.6,353.8 588.6,344.3 591.8,344.3 591.8,343.6 595.0,343.6 595.0,343.5 598.1,343.5 598.1,343.4 601.3,343.4 601.3,344.1 604.5,344.1 604.5,348.2 607.6,348.2 607.6,348.1 610.8,348.1 610.8,348.5 614.0,348.5 614.0,348.6 617.1,348.6 617.1,336.7 620.3,336.7 620.3,334.5 623.5,334.5 623.5,333.3 626.6,333.3 626.6,332.8 629.8,332.8 629.8,334.5 633.0,334.5 633.0,333.6 636.1,333.6 636.1,334.7 639.3,334.7 639.3,336.6 642.5,336.6 642.5,335.4 645.7,335.4 645.7,335.9 648.8,335.9 648.8,336.4 652.0,336.4 652.0,340.9 655.2,340.9 655.2,345.7 658.3,345.7 658.3,347.1 661.5,347.1 661.5,347.8 664.7,347.8 664.7,353.9 667.8,353.9 667.8,349.1 671.0,349.1 671.0,339.8 674.2,339.8 674.2,339.2 677.3,339.2 677.3,339.7 680.5,339.7 680.5,340.3 683.7,340.3 683.7,344.6 686.8,344.6 686.8,351.5 690.0,351.5 690.0,391.5 180.0,391.5"/>
<polygon fill="#de6a7c" points="180.0,348.5 183.2,348.5 183.2,350.1 186.3,350.1 186.3,351.7 189.5,351.7 189.5,351.2 192.7,351.2 192.7,347.5 195.8,347.5 195.8,343.7 199.0,343.7 199.0,352.2 202.2,352.2 202.2,354.2 205.3,354.2 205.3,357.3 208.5,357.3 208.5,356.1 211.7,356.1 211.7,352.6 214.8,352.6 214.8,355.2 218.0,355.2 218.0,359.1 221.2,359.1 221.2,356.3 224.3,356.3 224.3,356.6 227.5,356.6 227.5,357.9 230.7,357.9 230.7,358.3 233.9,358.3 233.9,355.8 237.0,355.8 237.0,358.1 240.2,358.1 240.2,360.7 243.4,360.7 243.4,357.8 246.5,357.8 246.5,354.6 249.7,354.6 249.7,356.5 252.9,356.5 252.9,355.7 256.0,355.7 256.0,355.1 259.2,355.1 259.2,344.8 262.4,344.8 262.4,343.1 265.5,343.1 265.5,350.2 268.7,350.2 268.7,348.8 271.9,348.8 271.9,349.5 275.0,349.5 275.0,346.3 278.2,346.3 278.2,346.9 281.4,346.9 281.4,343.2 284.5,343.2 284.5,342.5 287.7,342.5 287.7,346.7 290.9,346.7 290.9,344.5 294.0,344.5 294.0,338.5 297.2,338.5 297.2,331.5 300.4,331.5 300.4,330.3 303.5,330.3 303.5,346.2 306.7,346.2 306.7,350.6 309.9,350.6 309.9,356.6 313.0,356.6 313.0,359.6 316.2,359.6 316.2,362.3 319.4,362.3 319.4,364.0 322.5,364.0 322.5,365.9 325.7,365.9 325.7,368.1 328.9,368.1 328.9,366.5 332.0,366.5 332.0,369.8 335.2,369.8 335.2,371.9 338.4,371.9 338.4,370.6 341.6,370.6 341.6,370.6 344.7,370.6 344.7,368.7 347.9,368.7 347.9,368.3 351.1,368.3 351.1,372.0 354.2,372.0 354.2,371.6 357.4,371.6 357.4,370.7 360.6,370.7 360.6,368.2 363.7,368.2 363.7,369.8 366.9,369.8 366.9,366.9 370.1,366.9 370.1,367.6 373.2,367.6 373.2,367.7 376.4,367.7 376.4,367.7 379.6,367.7 379.6,369.9 382.7,369.9 382.7,369.7 385.9,369.7 385.9,369.5 389.1,369.5 389.1,370.4 392.2,370.4 392.2,367.9 395.4,367.9 395.4,370.3 398.6,370.3 398.6,366.8 401.7,366.8 401.7,355.1 404.9,355.1 404.9,354.0 408.1,354.0 408.1,360.3 411.2,360.3 411.2,354.6 414.4,354.6 414.4,360.8 417.6,360.8 417.6,353.6 420.7,353.6 420.7,338.4 423.9,338.4 423.9,349.3 427.1,349.3 427.1,357.6 430.2,357.6 430.2,361.7 433.4,361.7 433.4,357.6 436.6,357.6 436.6,361.1 439.8,361.1 439.8,368.5 442.9,368.5 442.9,370.4 446.1,370.4 446.1,372.0 449.3,372.0 449.3,374.0 452.4,374.0 452.4,374.9 455.6,374.9 455.6,376.3 458.8,376.3 458.8,368.9 461.9,368.9 461.9,372.7 465.1,372.7 465.1,373.5 468.3,373.5 468.3,370.3 471.4,370.3 471.4,361.8 474.6,361.8 474.6,360.9 477.8,360.9 477.8,362.7 480.9,362.7 480.9,367.6 484.1,367.6 484.1,374.2 487.3,374.2 487.3,373.3 490.4,373.3 490.4,372.9 493.6,372.9 493.6,373.5 496.8,373.5 496.8,374.6 499.9,374.6 499.9,375.5 503.1,375.5 503.1,374.1 506.3,374.1 506.3,377.3 509.4,377.3 509.4,378.2 512.6,378.2 512.6,375.2 515.8,375.2 515.8,370.1 518.9,370.1 518.9,368.4 522.1,368.4 522.1,368.7 525.3,368.7 525.3,364.6 528.4,364.6 528.4,369.4 531.6,369.4 531.6,376.6 534.8,376.6 534.8,373.2 538.0,373.2 538.0,373.9 541.1,373.9 541.1,378.6 544.3,378.6 544.3,378.9 547.5,378.9 547.5,378.4 550.6,378.4 550.6,376.2 553.8,376.2 553.8,375.7 557.0,375.7 557.0,375.2 560.1,375.2 560.1,377.2 563.3,377.2 563.3,372.4 566.5,372.4 566.5,372.7 569.6,372.7 569.6,376.6 572.8,376.6 572.8,376.9 576.0,376.9 576.0,374.7 579.1,374.7 579.1,376.0 582.3,376.0 582.3,374.4 585.5,374.4 585.5,365.1 588.6,365.1 588.6,368.7 591.8,368.7 591.8,371.0 595.0,371.0 595.0,374.5 598.1,374.5 598.1,374.7 601.3,374.7 601.3,373.0 604.5,373.0 604.5,371.3 607.6,371.3 607.6,369.2 610.8,369.2 610.8,373.5 614.0,373.5 614.0,376.5 617.1,376.5 617.1,362.9 620.3,362.9 620.3,360.6 623.5,360.6 623.5,363.8 626.6,363.8 626.6,370.8 629.8,370.8 629.8,369.9 633.0,369.9 633.0,371.0 636.1,371.0 636.1,367.7 639.3,367.7 639.3,365.0 642.5,365.0 642.5,368.6 645.7,368.6 645.7,368.0 648.8,368.0 648.8,370.4 652.0,370.4 652.0,375.7 655.2,375.7 655.2,375.0 658.3,375.0 658.3,377.1 661.5,377.1 661.5,375.8 664.7,375.8 664.7,375.0 667.8,375.0 667.8,369.5 671.0,369.5 671.0,360.9 674.2,360.9 674.2,368.2 677.3,368.2 677.3,371.9 680.5,371.9 680.5,374.4 683.7,374.4 683.7,376.8 686.8,376.8 686.8,376.2 690.0,376.2 690.0,391.5 180.0,391.5"/>
<polygon fill="#d9748f" points="180.0,369.9 183.2,369.9 183.2,367.4 186.3,367.4 186.3,371.1 189.5,371.1 189.5,371.8 192.7,371.8 192.7,374.8 195.8,374.8 195.8,376.1 199.0,376.1 199.0,375.9 202.2,375.9 202.2,377.0 205.3,377.0 205.3,376.6 208.5,376.6 208.5,377.0 211.7,377.0 211.7,378.9 214.8,378.9 214.8,378.7 218.0,378.7 218.0,378.8 221.2,378.8 221.2,377.6 224.3,377.6 224.3,381.8 227.5,381.8 227.5,377.7 230.7,377.7 230.7,376.9 233.9,376.9 233.9,378.3 237.0,378.3 237.0,375.7 240.2,375.7 240.2,376.7 243.4,376.7 243.4,377.8 246.5,377.8 246.5,377.1 249.7,377.1 249.7,372.7 252.9,372.7 252.9,376.3 256.0,376.3 256.0,375.4 259.2,375.4 259.2,371.2 262.4,371.2 262.4,373.2 265.5,373.2 265.5,371.4 268.7,371.4 268.7,372.7 271.9,372.7 271.9,374.6 275.0,374.6 275.0,371.3 278.2,371.3 278.2,371.6 281.4,371.6 281.4,371.9 284.5,371.9 284.5,373.2 287.7,373.2 287.7,371.6 290.9,371.6 290.9,371.4 294.0,371.4 294.0,368.3 297.2,368.3 297.2,362.7 300.4,362.7 300.4,371.5 303.5,371.5 303.5,375.8 306.7,375.8 306.7,377.5 309.9,377.5 309.9,378.8 313.0,378.8 313.0,380.3 316.2,380.3 316.2,382.3 319.4,382.3 319.4,383.8 322.5,383.8 322.5,381.1 325.7,381.1 325.7,383.9 328.9,383.9 328.9,379.3 332.0,379.3 332.0,381.4 335.2,381.4 335.2,384.8 338.4,384.8 338.4,380.4 341.6,380.4 341.6,382.5 344.7,382.5 344.7,384.4 347.9,384.4 347.9,382.2 351.1,382.2 351.1,383.2 354.2,383.2 354.2,382.4 357.4,382.4 357.4,384.7 360.6,384.7 360.6,382.6 363.7,382.6 363.7,382.6 366.9,382.6 366.9,383.5 370.1,383.5 370.1,384.2 373.2,384.2 373.2,382.7 376.4,382.7 376.4,384.2 379.6,384.2 379.6,382.3 382.7,382.3 382.7,382.9 385.9,382.9 385.9,381.8 389.1,381.8 389.1,382.0 392.2,382.0 392.2,383.5 395.4,383.5 395.4,382.3 398.6,382.3 398.6,380.7 401.7,380.7 401.7,379.7 404.9,379.7 404.9,378.1 408.1,378.1 408.1,380.4 411.2,380.4 411.2,377.8 414.4,377.8 414.4,380.5 417.6,380.5 417.6,377.6 420.7,377.6 420.7,374.8 423.9,374.8 423.9,375.6 427.1,375.6 427.1,379.9 430.2,379.9 430.2,382.7 433.4,382.7 433.4,382.4 436.6,382.4 436.6,383.1 439.8,383.1 439.8,385.2 442.9,385.2 442.9,383.6 446.1,383.6 446.1,384.1 449.3,384.1 449.3,381.0 452.4,381.0 452.4,384.6 455.6,384.6 455.6,386.4 458.8,386.4 458.8,386.6 461.9,386.6 461.9,382.9 465.1,382.9 465.1,383.9 468.3,383.9 468.3,384.3 471.4,384.3 471.4,379.8 474.6,379.8 474.6,376.9 477.8,376.9 477.8,380.6 480.9,380.6 480.9,384.4 484.1,384.4 484.1,384.5 487.3,384.5 487.3,385.5 490.4,385.5 490.4,384.3 493.6,384.3 493.6,385.9 496.8,385.9 496.8,384.8 499.9,384.8 499.9,387.2 503.1,387.2 503.1,385.1 506.3,385.1 506.3,387.2 509.4,387.2 509.4,387.0 512.6,387.0 512.6,388.1 515.8,388.1 515.8,387.0 518.9,387.0 518.9,387.2 522.1,387.2 522.1,386.3 525.3,386.3 525.3,382.9 528.4,382.9 528.4,385.3 531.6,385.3 531.6,382.7 534.8,382.7 534.8,387.4 538.0,387.4 538.0,387.8 541.1,387.8 541.1,385.8 544.3,385.8 544.3,387.7 547.5,387.7 547.5,384.9 550.6,384.9 550.6,387.4 553.8,387.4 553.8,387.2 557.0,387.2 557.0,386.6 560.1,386.6 560.1,385.8 563.3,385.8 563.3,385.7 566.5,385.7 566.5,387.2 569.6,387.2 569.6,385.0 572.8,385.0 572.8,387.8 576.0,387.8 576.0,384.5 579.1,384.5 579.1,387.4 582.3,387.4 582.3,385.5 585.5,385.5 585.5,382.6 588.6,382.6 588.6,387.3 591.8,387.3 591.8,384.9 595.0,384.9 595.0,384.3 598.1,384.3 598.1,384.2 601.3,384.2 601.3,384.7 604.5,384.7 604.5,385.2 607.6,385.2 607.6,384.8 610.8,384.8 610.8,387.2 614.0,387.2 614.0,384.4 617.1,384.4 617.1,386.0 620.3,386.0 620.3,385.9 623.5,385.9 623.5,386.9 626.6,386.9 626.6,386.3 629.8,386.3 629.8,386.3 633.0,386.3 633.0,385.5 636.1,385.5 636.1,386.5 639.3,386.5 639.3,387.3 642.5,387.3 642.5,387.0 645.7,387.0 645.7,387.4 648.8,387.4 648.8,385.4 652.0,385.4 652.0,386.1 655.2,386.1 655.2,384.2 658.3,384.2 658.3,381.4 661.5,381.4 661.5,381.4 664.7,381.4 664.7,383.8 667.8,383.8 667.8,384.2 671.0,384.2 671.0,386.0 674.2,386.0 674.2,387.2 677.3,387.2 677.3,384.5 680.5,384.5 680.5,384.6 683.7,384.6 683.7,385.4 686.8,385.4 686.8,386.4 690.0,386.4 690.0,391.5 180.0,391.5"/>
<polygon fill="#b9437a" points="180.0,380.4 183.2,380.4 183.2,380.6 186.3,380.6 186.3,379.9 189.5,379.9 189.5,379.1 192.7,379.1 192.7,377.1 195.8,377.1 195.8,379.2 199.0,379.2 199.0,379.4 202.2,379.4 202.2,380.9 205.3,380.9 205.3,379.0 208.5,379.0 208.5,380.0 211.7,380.0 211.7,382.7 214.8,382.7 214.8,384.0 218.0,384.0 218.0,384.6 221.2,384.6 221.2,381.7 224.3,381.7 224.3,382.9 227.5,382.9 227.5,383.4 230.7,383.4 230.7,381.2 233.9,381.2 233.9,378.9 237.0,378.9 237.0,382.9 240.2,382.9 240.2,382.6 243.4,382.6 243.4,380.0 246.5,380.0 246.5,377.5 249.7,377.5 249.7,377.6 252.9,377.6 252.9,377.1 256.0,377.1 256.0,375.7 259.2,375.7 259.2,374.7 262.4,374.7 262.4,372.6 265.5,372.6 265.5,375.6 268.7,375.6 268.7,376.8 271.9,376.8 271.9,377.0 275.0,377.0 275.0,379.9 278.2,379.9 278.2,379.4 281.4,379.4 281.4,374.4 284.5,374.4 284.5,377.4 287.7,377.4 287.7,376.0 290.9,376.0 290.9,375.8 294.0,375.8 294.0,375.6 297.2,375.6 297.2,374.1 300.4,374.1 300.4,378.9 303.5,378.9 303.5,380.6 306.7,380.6 306.7,382.9 309.9,382.9 309.9,382.9 313.0,382.9 313.0,384.9 316.2,384.9 316.2,384.6 319.4,384.6 319.4,384.8 322.5,384.8 322.5,384.5 325.7,384.5 325.7,384.5 328.9,384.5 328.9,384.2 332.0,384.2 332.0,385.5 335.2,385.5 335.2,384.0 338.4,384.0 338.4,382.5 341.6,382.5 341.6,383.4 344.7,383.4 344.7,383.4 347.9,383.4 347.9,383.8 351.1,383.8 351.1,383.7 354.2,383.7 354.2,384.9 357.4,384.9 357.4,384.2 360.6,384.2 360.6,385.4 363.7,385.4 363.7,385.3 366.9,385.3 366.9,385.6 370.1,385.6 370.1,383.8 373.2,383.8 373.2,386.3 376.4,386.3 376.4,384.6 379.6,384.6 379.6,386.4 382.7,386.4 382.7,385.6 385.9,385.6 385.9,384.2 389.1,384.2 389.1,383.6 392.2,383.6 392.2,382.4 395.4,382.4 395.4,382.1 398.6,382.1 398.6,381.1 401.7,381.1 401.7,383.5 404.9,383.5 404.9,382.6 408.1,382.6 408.1,382.2 411.2,382.2 411.2,380.1 414.4,380.1 414.4,380.7 417.6,380.7 417.6,379.9 420.7,379.9 420.7,377.0 423.9,377.0 423.9,378.2 427.1,378.2 427.1,383.7 430.2,383.7 430.2,386.4 433.4,386.4 433.4,384.5 436.6,384.5 436.6,385.0 439.8,385.0 439.8,385.8 442.9,385.8 442.9,384.5 446.1,384.5 446.1,385.2 449.3,385.2 449.3,385.6 452.4,385.6 452.4,386.7 455.6,386.7 455.6,386.4 458.8,386.4 458.8,385.6 461.9,385.6 461.9,386.5 465.1,386.5 465.1,385.7 468.3,385.7 468.3,384.3 471.4,384.3 471.4,382.7 474.6,382.7 474.6,380.0 477.8,380.0 477.8,381.6 480.9,381.6 480.9,388.5 484.1,388.5 484.1,387.0 487.3,387.0 487.3,384.9 490.4,384.9 490.4,384.2 493.6,384.2 493.6,386.0 496.8,386.0 496.8,388.1 499.9,388.1 499.9,388.8 503.1,388.8 503.1,387.2 506.3,387.2 506.3,388.3 509.4,388.3 509.4,386.8 512.6,386.8 512.6,386.2 515.8,386.2 515.8,388.7 518.9,388.7 518.9,386.6 522.1,386.6 522.1,385.0 525.3,385.0 525.3,385.9 528.4,385.9 528.4,386.7 531.6,386.7 531.6,386.6 534.8,386.6 534.8,388.4 538.0,388.4 538.0,388.8 541.1,388.8 541.1,387.5 544.3,387.5 544.3,387.5 547.5,387.5 547.5,387.8 550.6,387.8 550.6,387.4 553.8,387.4 553.8,387.0 557.0,387.0 557.0,386.7 560.1,386.7 560.1,385.0 563.3,385.0 563.3,388.2 566.5,388.2 566.5,388.9 569.6,388.9 569.6,387.8 572.8,387.8 572.8,386.9 576.0,386.9 576.0,388.1 579.1,388.1 579.1,386.8 582.3,386.8 582.3,386.4 585.5,386.4 585.5,388.4 588.6,388.4 588.6,386.1 591.8,386.1 591.8,388.5 595.0,388.5 595.0,387.2 598.1,387.2 598.1,386.5 601.3,386.5 601.3,385.9 604.5,385.9 604.5,388.0 607.6,388.0 607.6,384.5 610.8,384.5 610.8,387.9 614.0,387.9 614.0,388.6 617.1,388.6 617.1,386.4 620.3,386.4 620.3,388.7 623.5,388.7 623.5,388.5 626.6,388.5 626.6,388.2 629.8,388.2 629.8,387.9 633.0,387.9 633.0,386.7 636.1,386.7 636.1,385.9 639.3,385.9 639.3,388.2 642.5,388.2 642.5,387.8 645.7,387.8 645.7,388.7 648.8,388.7 648.8,388.5 652.0,388.5 652.0,387.7 655.2,387.7 655.2,388.7 658.3,388.7 658.3,388.7 661.5,388.7 661.5,387.8 664.7,387.8 664.7,387.8 667.8,387.8 667.8,386.0 671.0,386.0 671.0,387.0 674.2,387.0 674.2,388.1 677.3,388.1 677.3,387.2 680.5,387.2 680.5,387.6 683.7,387.6 683.7,386.3 686.8,386.3 686.8,386.5 690.0,386.5 690.0,391.5 180.0,391.5"/>
<rect x="180" y="389.6" width="510" height="1.9" fill="#b3296a"/>
</g>
<g id="price"><polyline fill="none" stroke-linejoin="round" vector-effect="non-scaling-stroke" points="180.0,211.4 181.6,211.4 181.6,210.2 181.6,212.0 181.6,211.4 183.2,211.4 183.2,210.9 184.8,210.9 186.3,210.9 186.3,209.3 187.9,209.3 189.5,209.3 189.5,208.3 191.1,208.3 192.7,208.3 192.7,207.7 194.3,207.7 195.8,207.7 195.8,207.7 197.4,207.7 199.0,207.7 199.0,208.4 200.6,208.4 202.2,208.4 202.2,208.4 203.8,208.4 205.3,208.4 205.3,208.9 206.9,208.9 208.5,208.9 208.5,212.0 210.1,212.0 210.1,210.0 210.1,213.4 210.1,212.0 211.7,212.0 211.7,211.4 213.3,211.4 214.8,211.4 214.8,211.9 216.4,211.9 216.4,210.2 216.4,211.6 216.4,211.9 218.0,211.9 218.0,210.7 219.6,210.7 219.6,208.7 219.6,211.2 219.6,210.7 221.2,210.7 221.2,209.5 222.8,209.5 224.3,209.5 224.3,208.6 225.9,208.6 225.9,207.7 225.9,209.0 225.9,208.6 227.5,208.6 227.5,207.5 229.1,207.5 230.7,207.5 230.7,205.8 232.3,205.8 232.3,204.5 232.3,206.5 232.3,205.8 233.9,205.8 233.9,205.1 235.4,205.1 237.0,205.1 237.0,204.9 238.6,204.9 240.2,204.9 240.2,204.9 241.8,204.9 241.8,204.7 241.8,206.3 241.8,204.9 243.4,204.9 243.4,204.4 244.9,204.4 246.5,204.4 246.5,204.5 248.1,204.5 249.7,204.5 249.7,204.2 251.3,204.2 252.9,204.2 252.9,203.4 254.4,203.4 254.4,202.4 254.4,203.9 254.4,203.4 256.0,203.4 256.0,200.8 257.6,200.8 257.6,199.4 257.6,202.4 257.6,200.8 259.2,200.8 259.2,197.7 260.8,197.7 260.8,196.4 260.8,199.4 260.8,197.7 262.4,197.7 262.4,194.8 263.9,194.8 263.9,194.0 263.9,196.5 263.9,194.8 265.5,194.8 265.5,192.7 267.1,192.7 267.1,191.0 267.1,194.7 267.1,192.7 268.7,192.7 268.7,189.8 270.3,189.8 270.3,187.3 270.3,191.0 270.3,189.8 271.9,189.8 271.9,184.8 273.4,184.8 273.4,182.6 273.4,187.3 273.4,184.8 275.0,184.8 275.0,180.4 276.6,180.4 276.6,177.9 276.6,182.6 276.6,180.4 278.2,180.4 278.2,176.2 279.8,176.2 279.8,174.5 279.8,177.9 279.8,176.2 281.4,176.2 281.4,172.7 283.0,172.7 283.0,170.5 283.0,174.5 283.0,172.7 284.5,172.7 284.5,168.1 286.1,168.1 286.1,165.1 286.1,170.5 286.1,168.1 287.7,168.1 287.7,162.2 289.3,162.2 289.3,158.0 289.3,165.1 289.3,162.2 290.9,162.2 290.9,153.8 292.5,153.8 292.5,150.2 292.5,158.0 292.5,153.8 294.0,153.8 294.0,142.2 295.6,142.2 295.6,134.2 295.6,150.2 295.6,142.2 297.2,142.2 297.2,133.1 298.8,133.1 298.8,133.0 298.8,148.3 298.8,133.1 300.4,133.1 300.4,159.3 302.0,159.3 302.0,148.3 302.0,162.6 302.0,159.3 303.5,159.3 303.5,146.4 305.1,146.4 305.1,144.3 305.1,154.7 305.1,146.4 306.7,146.4 306.7,145.1 308.3,145.1 308.3,143.6 308.3,147.1 308.3,145.1 309.9,145.1 309.9,151.3 311.5,151.3 311.5,147.1 311.5,152.8 311.5,151.3 313.0,151.3 313.0,150.8 314.6,150.8 314.6,150.1 314.6,152.0 314.6,150.8 316.2,150.8 316.2,150.0 317.8,150.0 319.4,150.0 319.4,148.5 321.0,148.5 322.5,148.5 322.5,148.4 324.1,148.4 324.1,147.9 324.1,150.0 324.1,148.4 325.7,148.4 325.7,148.8 327.3,148.8 327.3,148.5 327.3,150.0 327.3,148.8 328.9,148.8 328.9,151.3 330.5,151.3 330.5,149.6 330.5,152.9 330.5,151.3 332.0,151.3 332.0,153.3 333.6,153.3 333.6,152.9 333.6,154.1 333.6,153.3 335.2,153.3 335.2,154.1 336.8,154.1 338.4,154.1 338.4,155.3 340.0,155.3 340.0,154.9 340.0,157.2 340.0,155.3 341.6,155.3 341.6,159.2 343.1,159.2 343.1,157.2 343.1,161.1 343.1,159.2 344.7,159.2 344.7,159.8 346.3,159.8 346.3,158.6 346.3,161.4 346.3,159.8 347.9,159.8 347.9,156.9 349.5,156.9 349.5,156.4 349.5,158.6 349.5,156.9 351.1,156.9 351.1,155.8 352.6,155.8 354.2,155.8 354.2,156.3 355.8,156.3 357.4,156.3 357.4,155.4 359.0,155.4 359.0,153.3 359.0,155.6 359.0,155.4 360.6,155.4 360.6,154.6 362.1,154.6 362.1,153.6 362.1,155.0 362.1,154.6 363.7,154.6 363.7,153.1 365.3,153.1 365.3,152.2 365.3,153.6 365.3,153.1 366.9,153.1 366.9,151.2 368.5,151.2 368.5,150.9 368.5,152.2 368.5,151.2 370.1,151.2 370.1,150.2 371.6,150.2 373.2,150.2 373.2,149.6 374.8,149.6 376.4,149.6 376.4,148.3 378.0,148.3 379.6,148.3 379.6,148.3 381.1,148.3 382.7,148.3 382.7,149.0 384.3,149.0 385.9,149.0 385.9,148.7 387.5,148.7 389.1,148.7 389.1,148.8 390.7,148.8 390.7,148.6 390.7,152.4 390.7,148.8 392.2,148.8 392.2,149.3 393.8,149.3 393.8,147.3 393.8,152.8 393.8,149.3 395.4,149.3 395.4,146.8 397.0,146.8 397.0,145.8 397.0,147.3 397.0,146.8 398.6,146.8 398.6,142.9 400.2,142.9 400.2,139.3 400.2,145.8 400.2,142.9 401.7,142.9 401.7,138.1 403.3,138.1 403.3,137.1 403.3,139.3 403.3,138.1 404.9,138.1 404.9,136.1 406.5,136.1 406.5,135.9 406.5,137.1 406.5,136.1 408.1,136.1 408.1,134.3 409.7,134.3 409.7,130.3 409.7,135.9 409.7,134.3 411.2,134.3 411.2,124.5 412.8,124.5 412.8,117.5 412.8,130.3 412.8,124.5 414.4,124.5 414.4,111.1 416.0,111.1 416.0,105.9 416.0,117.5 416.0,111.1 417.6,111.1 417.6,101.6 419.2,101.6 419.2,97.4 419.2,105.9 419.2,101.6 420.7,101.6 420.7,93.9 422.3,93.9 422.3,92.5 422.3,97.4 422.3,93.9 423.9,93.9 423.9,93.0 425.5,93.0 425.5,91.5 425.5,94.3 425.5,93.0 427.1,93.0 427.1,98.6 428.7,98.6 428.7,94.3 428.7,103.7 428.7,98.6 430.2,98.6 430.2,108.1 431.8,108.1 431.8,103.7 431.8,109.5 431.8,108.1 433.4,108.1 433.4,105.6 435.0,105.6 435.0,104.4 435.0,108.0 435.0,105.6 436.6,105.6 436.6,103.2 438.2,103.2 438.2,101.2 438.2,104.4 438.2,103.2 439.8,103.2 439.8,99.8 441.3,99.8 441.3,98.5 441.3,101.2 441.3,99.8 442.9,99.8 442.9,98.3 444.5,98.3 446.1,98.3 446.1,99.3 447.7,99.3 447.7,98.7 447.7,100.2 447.7,99.3 449.3,99.3 449.3,100.9 450.8,100.9 452.4,100.9 452.4,100.7 454.0,100.7 455.6,100.7 455.6,100.9 457.2,100.9 457.2,99.6 457.2,101.0 457.2,100.9 458.8,100.9 458.8,102.0 460.3,102.0 460.3,100.3 460.3,103.4 460.3,102.0 461.9,102.0 461.9,105.2 463.5,105.2 463.5,103.4 463.5,106.7 463.5,105.2 465.1,105.2 465.1,108.0 466.7,108.0 466.7,106.7 466.7,109.0 466.7,108.0 468.3,108.0 468.3,108.2 469.8,108.2 469.8,106.9 469.8,108.8 469.8,108.2 471.4,108.2 471.4,106.6 473.0,106.6 474.6,106.6 474.6,105.7 476.2,105.7 477.8,105.7 477.8,106.1 479.3,106.1 480.9,106.1 480.9,107.9 482.5,107.9 482.5,107.2 482.5,109.3 482.5,107.9 484.1,107.9 484.1,110.0 485.7,110.0 485.7,107.9 485.7,111.7 485.7,110.0 487.3,110.0 487.3,113.1 488.9,113.1 488.9,111.7 488.9,115.2 488.9,113.1 490.4,113.1 490.4,117.4 492.0,117.4 492.0,115.2 492.0,119.7 492.0,117.4 493.6,117.4 493.6,115.4 495.2,115.4 495.2,113.4 495.2,117.5 495.2,115.4 496.8,115.4 496.8,113.4 498.4,113.4 499.9,113.4 499.9,114.5 501.5,114.5 501.5,112.7 501.5,115.0 501.5,114.5 503.1,114.5 503.1,115.3 504.7,115.3 506.3,115.3 506.3,115.1 507.9,115.1 507.9,113.7 507.9,115.7 507.9,115.1 509.4,115.1 509.4,114.8 511.0,114.8 512.6,114.8 512.6,112.8 514.2,112.8 514.2,110.9 514.2,114.6 514.2,112.8 515.8,112.8 515.8,109.1 517.4,109.1 517.4,107.2 517.4,110.9 517.4,109.1 518.9,109.1 518.9,106.5 520.5,106.5 520.5,105.0 520.5,107.2 520.5,106.5 522.1,106.5 522.1,107.0 523.7,107.0 525.3,107.0 525.3,108.0 526.9,108.0 528.4,108.0 528.4,108.8 530.0,108.8 531.6,108.8 531.6,107.5 533.2,107.5 534.8,107.5 534.8,106.7 536.4,106.7 538.0,106.7 538.0,107.1 539.5,107.1 541.1,107.1 541.1,107.1 542.7,107.1 544.3,107.1 544.3,107.9 545.9,107.9 547.5,107.9 547.5,108.4 549.0,108.4 550.6,108.4 550.6,108.3 552.2,108.3 553.8,108.3 553.8,109.5 555.4,109.5 557.0,109.5 557.0,109.2 558.5,109.2 558.5,109.3 558.5,110.8 558.5,109.2 560.1,109.2 560.1,112.2 561.7,112.2 561.7,110.4 561.7,112.4 561.7,112.2 563.3,112.2 563.3,112.4 564.9,112.4 566.5,112.4 566.5,112.9 568.0,112.9 569.6,112.9 569.6,114.4 571.2,114.4 572.8,114.4 572.8,114.6 574.4,114.6 576.0,114.6 576.0,115.2 577.5,115.2 579.1,115.2 579.1,117.2 580.7,117.2 580.7,116.0 580.7,118.6 580.7,117.2 582.3,117.2 582.3,119.3 583.9,119.3 583.9,118.0 583.9,120.3 583.9,119.3 585.5,119.3 585.5,121.7 587.0,121.7 587.0,120.3 587.0,122.0 587.0,121.7 588.6,121.7 588.6,120.3 590.2,120.3 590.2,119.6 590.2,121.4 590.2,120.3 591.8,120.3 591.8,119.9 593.4,119.9 593.4,119.7 593.4,121.2 593.4,119.9 595.0,119.9 595.0,120.9 596.6,120.9 598.1,120.9 598.1,121.1 599.7,121.1 601.3,121.1 601.3,122.4 602.9,122.4 604.5,122.4 604.5,119.4 606.1,119.4 606.1,118.3 606.1,121.6 606.1,119.4 607.6,119.4 607.6,119.4 609.2,119.4 609.2,118.4 609.2,119.9 609.2,119.4 610.8,119.4 610.8,119.8 612.4,119.8 614.0,119.8 614.0,120.0 615.6,120.0 617.1,120.0 617.1,120.6 618.7,120.6 618.7,120.7 618.7,122.9 618.7,120.6 620.3,120.6 620.3,122.1 621.9,122.1 623.5,122.1 623.5,122.9 625.1,122.9 626.6,122.9 626.6,124.0 628.2,124.0 629.8,124.0 629.8,124.9 631.4,124.9 633.0,124.9 633.0,126.3 634.6,126.3 634.6,124.8 634.6,126.5 634.6,126.3 636.1,126.3 636.1,126.4 637.7,126.4 637.7,126.5 637.7,128.2 637.7,126.4 639.3,126.4 639.3,131.3 640.9,131.3 640.9,128.2 640.9,139.3 640.9,131.3 642.5,131.3 642.5,131.4 644.1,131.4 644.1,129.4 644.1,136.2 644.1,131.4 645.7,131.4 645.7,130.6 647.2,130.6 647.2,129.4 647.2,131.4 647.2,130.6 648.8,130.6 648.8,132.5 650.4,132.5 650.4,131.4 650.4,133.0 650.4,132.5 652.0,132.5 652.0,132.7 653.6,132.7 653.6,131.2 653.6,133.0 653.6,132.7 655.2,132.7 655.2,132.2 656.7,132.2 658.3,132.2 658.3,131.4 659.9,131.4 659.9,130.6 659.9,131.9 659.9,131.4 661.5,131.4 661.5,129.8 663.1,129.8 664.7,129.8 664.7,129.2 666.2,129.2 667.8,129.2 667.8,128.1 669.4,128.1 669.4,127.2 669.4,128.4 669.4,128.1 671.0,128.1 671.0,127.0 672.6,127.0 672.6,125.1 672.6,128.0 672.6,127.0 674.2,127.0 674.2,128.4 675.7,128.4 675.7,128.0 675.7,129.3 675.7,128.4 677.3,128.4 677.3,129.8 678.9,129.8 680.5,129.8 680.5,130.3 682.1,130.3 683.7,130.3 683.7,131.1 685.2,131.1 686.8,131.1 686.8,132.0 688.4,132.0 688.4,130.4 688.4,133.0 688.4,132.0 690.0,132.0"/></g></defs>
<svg x="0" y="0" width="161" height="391.5" viewBox="180 0 510 391.5" preserveAspectRatio="none"><use href="#chart"/><g opacity="0.11" font-family="Liberation Sans, sans-serif" fill="#807860" stroke="#807860" stroke-width="1.3" stroke-linejoin="round"><text transform="translate(180,0) scale(3.1677,1) translate(25.40,0) scale(1.127,1)" x="0" y="210.9" font-size="62" stroke-width="1.15">g</text><text transform="translate(180,0) scale(3.1677,1) translate(64.00,0) scale(0.930,1)" x="0" y="210.9" font-size="67" stroke-width="1.40">l</text><text transform="translate(180,0) scale(3.1677,1) translate(79.10,0) scale(0.994,1)" x="0" y="210.9" font-size="62" stroke-width="1.31">a</text><text transform="translate(180,0) scale(3.1677,1) translate(120.30,0) scale(0.800,1)" x="0" y="210.9" font-size="62" stroke-width="2.50">s</text><text transform="translate(180,0) scale(3.1677,1) translate(149.80,0) scale(0.800,1)" x="0" y="210.9" font-size="62" stroke-width="2.50">s</text></g><use href="#price" stroke="#5c5c4c" stroke-width="0.95"/></svg>
<svg x="180" y="0" width="510" height="391.5" viewBox="180 0 510 391.5" preserveAspectRatio="none"><use href="#chart"/><g opacity="0.11" font-family="Liberation Sans, sans-serif" fill="#807860" stroke="#807860" stroke-width="1.3" stroke-linejoin="round"><text transform="translate(180,0) scale(3.1677,1) translate(21.30,0) scale(1.243,1)" x="0" y="210.9" font-size="62" stroke-width="1.05">g</text><text transform="translate(180,0) scale(3.1677,1) translate(63.20,0) scale(1.040,1)" x="0" y="210.9" font-size="67" stroke-width="1.25">l</text><text transform="translate(180,0) scale(3.1677,1) translate(78.60,0) scale(1.072,1)" x="0" y="210.9" font-size="62" stroke-width="1.21">a</text><text transform="translate(180,0) scale(3.1677,1) translate(121.00,0) scale(0.900,1)" x="0" y="210.9" font-size="62" stroke-width="2.22">s</text><text transform="translate(180,0) scale(3.1677,1) translate(150.30,0) scale(0.900,1)" x="0" y="210.9" font-size="62" stroke-width="2.22">s</text></g><use href="#price" stroke="#505040" stroke-width="1.15"/></svg>
<g stroke="#ebebeb" stroke-width="1">
<line x1="20.5" y1="392" x2="20.5" y2="398"/><line x1="81.5" y1="392" x2="81.5" y2="398"/><line x1="142.5" y1="392" x2="142.5" y2="398"/>
<line x1="244" y1="392" x2="244" y2="395"/><line x1="439.5" y1="392" x2="439.5" y2="395"/><line x1="633" y1="392" x2="633" y2="395"/>
</g>
<polygon fill="#6fc9bd" points="155.6,0 161,0 161,2.7 159.5,2.5 158,1.6 156.5,0.8"/>
<!-- left annotations -->
<text x="43.4" y="72.1" font-family="Liberation Sans, sans-serif" font-size="12.25" letter-spacing="0.12" font-style="italic" fill="#fc0a0a" stroke="#fc0a0a" stroke-width="0.35">CLÍMAX 2013</text>
<ellipse cx="76.6" cy="97.3" rx="16.5" ry="17" fill="none" stroke="#fc0a0a" stroke-width="3.05"/>
<!-- right annotations -->
<text x="396.9" y="72.5" font-family="Liberation Sans, sans-serif" font-size="12.25" letter-spacing="0.12" font-style="italic" fill="#fc0a0a" stroke="#fc0a0a" stroke-width="0.35">CLÍMAX 2013</text>
<ellipse cx="426" cy="97.2" rx="18.3" ry="16.6" fill="none" stroke="#fc0a0a" stroke-width="3.05"/>
<path fill="none" stroke="#2626da" stroke-width="1.25" stroke-linecap="round" stroke-linejoin="round" d="M441.0,25.9 C441.8,26.1 446.5,28.1 448.5,28.3 C450.5,28.5 457.8,28.5 461.0,28.3 C464.2,28.1 476.8,26.6 480.5,25.9 C484.2,25.2 493.9,22.3 497.8,21.0 C501.8,19.7 516.8,13.8 520.0,12.8 C523.2,11.8 528.0,11.5 530.0,11.0 C532.0,10.5 537.7,8.1 539.7,7.4 C541.7,6.7 547.6,4.6 549.6,4.2 C551.6,3.8 551.5,3.1 559.4,3.0 C567.3,2.9 621.5,3.0 628.4,3.0"/>
<path fill="none" stroke="#2626da" stroke-width="1.25" stroke-linecap="round" stroke-linejoin="round" d="M441.0,35.0 C442.2,35.2 450.2,36.7 453.4,37.4 C456.6,38.1 469.5,41.0 473.0,41.9 C476.5,42.8 485.0,45.9 488.0,46.8 C491.0,47.7 499.5,49.7 502.7,50.5 C505.9,51.3 517.0,54.0 520.0,54.7 C523.0,55.4 529.8,56.7 532.3,57.1 C534.8,57.5 541.4,58.7 544.6,59.1 C547.8,59.5 560.6,60.7 564.3,61.0 C568.0,61.3 573.7,61.9 581.6,62.0 C589.5,62.1 636.9,62.0 643.0,62.0"/>
<path fill="none" stroke="#2626da" stroke-width="1.25" stroke-linecap="round" stroke-linejoin="round" d="M552.0,30.5 L580.3,31.3"/>
<path fill="none" stroke="#2626da" stroke-width="1.25" stroke-linecap="round" stroke-linejoin="round" d="M571.2,20.2 C571.1,20.9 571.0,22.8 570.5,24.6 C570.0,26.4 568.8,28.5 568.0,30.8 C567.2,33.1 566.1,35.5 565.6,38.2 C565.1,40.9 564.9,45.4 564.8,46.8"/>
<path fill="none" stroke="#2626da" stroke-width="1.25" stroke-linecap="round" stroke-linejoin="round" d="M492.3,174.0 C493.2,174.3 495.5,175.1 497.7,176.0 C499.9,176.9 502.8,178.1 505.4,179.2 C507.9,180.3 511.1,181.8 513.0,182.7 C514.9,183.6 515.1,183.5 517.0,184.6 C518.9,185.7 521.7,187.5 524.6,189.4 C527.5,191.3 531.0,194.3 534.2,196.2 C537.4,198.1 540.3,199.1 543.8,201.0 C547.3,202.9 551.2,205.2 555.4,207.7 C559.6,210.1 564.7,213.6 569.0,215.7 C573.3,217.8 576.8,218.8 581.0,220.5 C585.2,222.2 588.6,223.9 594.0,225.6 C599.4,227.3 607.5,228.4 613.6,230.5 C619.7,232.6 623.8,234.8 630.8,237.9 C637.8,241.0 647.3,245.6 655.5,249.0 C663.7,252.4 675.9,256.8 680.0,258.3"/>
<path fill="none" stroke="#2626da" stroke-width="1.25" stroke-linecap="round" stroke-linejoin="round" d="M533.5,260.0 C536.2,261.4 545.3,266.2 549.6,268.7 C553.9,271.2 556.1,272.8 559.4,274.9 C562.7,276.9 567.6,280.0 569.3,281.0"/>
<path fill="none" stroke="#2626da" stroke-width="1.25" stroke-linecap="round" stroke-linejoin="round" d="M440.0,202.0 C440.6,202.5 442.8,203.2 443.8,204.8 C444.8,206.4 445.2,209.4 445.8,211.5 C446.4,213.6 447.1,214.9 447.7,217.3 C448.3,219.7 448.9,222.4 449.6,226.0 C450.4,229.6 451.4,234.8 452.2,239.0 C453.0,243.2 453.7,247.7 454.7,251.4 C455.7,255.1 457.2,257.9 458.4,261.0 C459.6,264.1 460.8,267.1 462.0,270.0 C463.2,272.9 464.4,275.5 465.8,278.6 C467.2,281.7 468.7,285.0 470.7,288.5 C472.7,292.0 475.1,295.9 478.0,299.6 C480.9,303.3 484.7,307.1 488.0,310.6 C491.3,314.1 494.7,317.2 497.8,320.5 C500.9,323.8 502.8,326.7 506.5,330.3 C510.2,333.9 515.8,338.6 520.0,342.0 C524.2,345.4 528.2,348.1 532.0,350.8 C535.8,353.5 538.0,355.5 543.0,358.4 C548.0,361.3 556.9,365.6 561.9,368.0 C566.9,370.4 568.6,370.9 573.0,372.5 C577.4,374.1 582.6,375.6 588.3,377.4 C594.0,379.1 600.7,380.9 607.0,383.0 C613.3,385.1 619.1,388.0 626.0,389.7 C632.9,391.4 644.8,392.8 648.6,393.4"/>
</svg>
<div class="ax" style="left:0.8px">2013</div>
<div class="ax" style="left:62.1px">2014</div>
<div class="ax" style="left:123.5px">2015</div>
</body></html>
